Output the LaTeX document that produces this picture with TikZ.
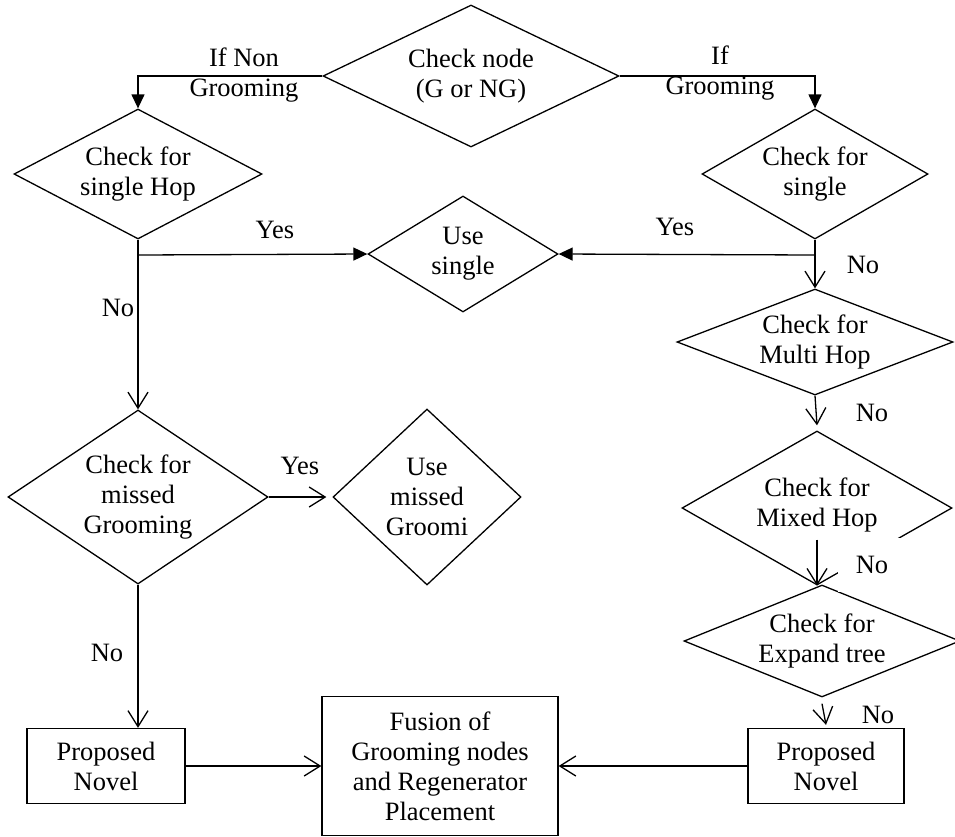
\documentclass[tikz,border=0pt]{standalone}
\usepackage{fontspec}
\setmainfont{Liberation Serif}
\usetikzlibrary{shapes.geometric,arrows.meta}

\begin{document}
\begin{tikzpicture}[x=1pt,y=-1pt,line width=1.3pt,
  font=\fontsize{26.5}{30}\selectfont,
  dia/.style={draw,diamond,inner sep=0pt,align=center},
  box/.style={draw,rectangle,inner sep=0pt,align=center},
  lbl/.style={align=center,inner sep=0pt},
  fill arrow/.style={-{Triangle[length=14pt,width=13pt]}},
  open arrow/.style={-{Straight Barb[length=16pt,width=20pt]}}]

\useasboundingbox (0,0) rectangle (955,836);

\node[dia,minimum width=296pt,minimum height=142pt,aspect=2.08] (chk) at (471,76) {Check node\\(G or NG)};
\node[dia,minimum width=248pt,minimum height=130pt,aspect=1.9] (hop) at (138,174) {Check for\\single Hop};
\node[dia,minimum width=226pt,minimum height=130pt,aspect=1.74] (sgl) at (815,174) {Check for\\single};
\node[dia,minimum width=190pt,minimum height=116pt,aspect=1.64] (use) at (463,254) {Use\\single};
\node[dia,minimum width=276pt,minimum height=106pt,aspect=2.6] (mul) at (815,342) {Check for\\Multi Hop};
\node[dia,minimum width=260pt,minimum height=174pt,aspect=1.5] (miss) at (138,497) {Check for\\missed\\Grooming};
\node[dia,minimum width=188pt,minimum height=176pt,aspect=1.07] (umiss) at (427,497) {Use\\missed\\Groomi};
\node[dia,minimum width=270pt,minimum height=154pt,aspect=1.75] (mix) at (817,508) {Check for\\Mixed Hop\\[-18pt]};
\node[dia,minimum width=276pt,minimum height=112pt,aspect=2.46] (exp) at (822,641) {Check for\\Expand tree};
\node[box,minimum width=158pt,minimum height=75pt] (lnov) at (106,766) {Proposed\\Novel};
\node[box,minimum width=236pt,minimum height=139pt] (fus) at (440,766) {Fusion of\\Grooming nodes\\and Regenerator\\Placement};
\node[box,minimum width=156pt,minimum height=75pt] (rnov) at (826,766) {Proposed\\Novel};

\coordinate (ly) at (138,255);
\coordinate (ry) at (815,255);

\draw[fill arrow] (chk.west) -| (hop.north);
\draw[fill arrow] (chk.east) -| (sgl.north);
\draw (hop.south) -- (ly);
\draw[fill arrow] (ly) -- (use.west);
\draw[open arrow] (ly) -- (miss.north);
\draw (sgl.south) -- (ry);
\draw[fill arrow] (ry) -- (use.east);
\draw[open arrow] (ry) -- (mul.north);
\draw[open arrow] (mul.south) -- ([yshift=5pt]mix.north);
\draw[open arrow] ([yshift=46pt]mix.south) -- (mix.south);
\draw[open arrow] ([yshift=-6pt]exp.south) -- ([yshift=3pt]rnov.north);
\draw[open arrow] (miss.south) -- (miss.south |- lnov.north);
\draw[open arrow,shorten >=6pt] (miss.east) -- (umiss.west);
\draw[open arrow] (lnov.east) -- (fus.west);
\draw[open arrow] (rnov.west) -- (fus.east);

\node[lbl] (ifng) at (244,75) {If Non\\Grooming};
\node[lbl] (ifg) at (720,73) {If\\Grooming};
\node[lbl] (yes1) at (275,230) {Yes};
\node[lbl] (yes2) at (675,227) {Yes};
\node[lbl] (yes3) at (300,466) {Yes};
\node[lbl] (no1) at (118,308) {No};
\node[lbl] (no2) at (863,265) {No};
\node[lbl] (no3) at (872,413) {No};
\node[lbl,fill=white,minimum width=68pt,minimum height=54pt] (no4) at (872,565) {No};
\node[lbl] (no5) at (878,715) {No};
\node[lbl] (no6) at (107,653) {No};
\end{tikzpicture}
\end{document}
